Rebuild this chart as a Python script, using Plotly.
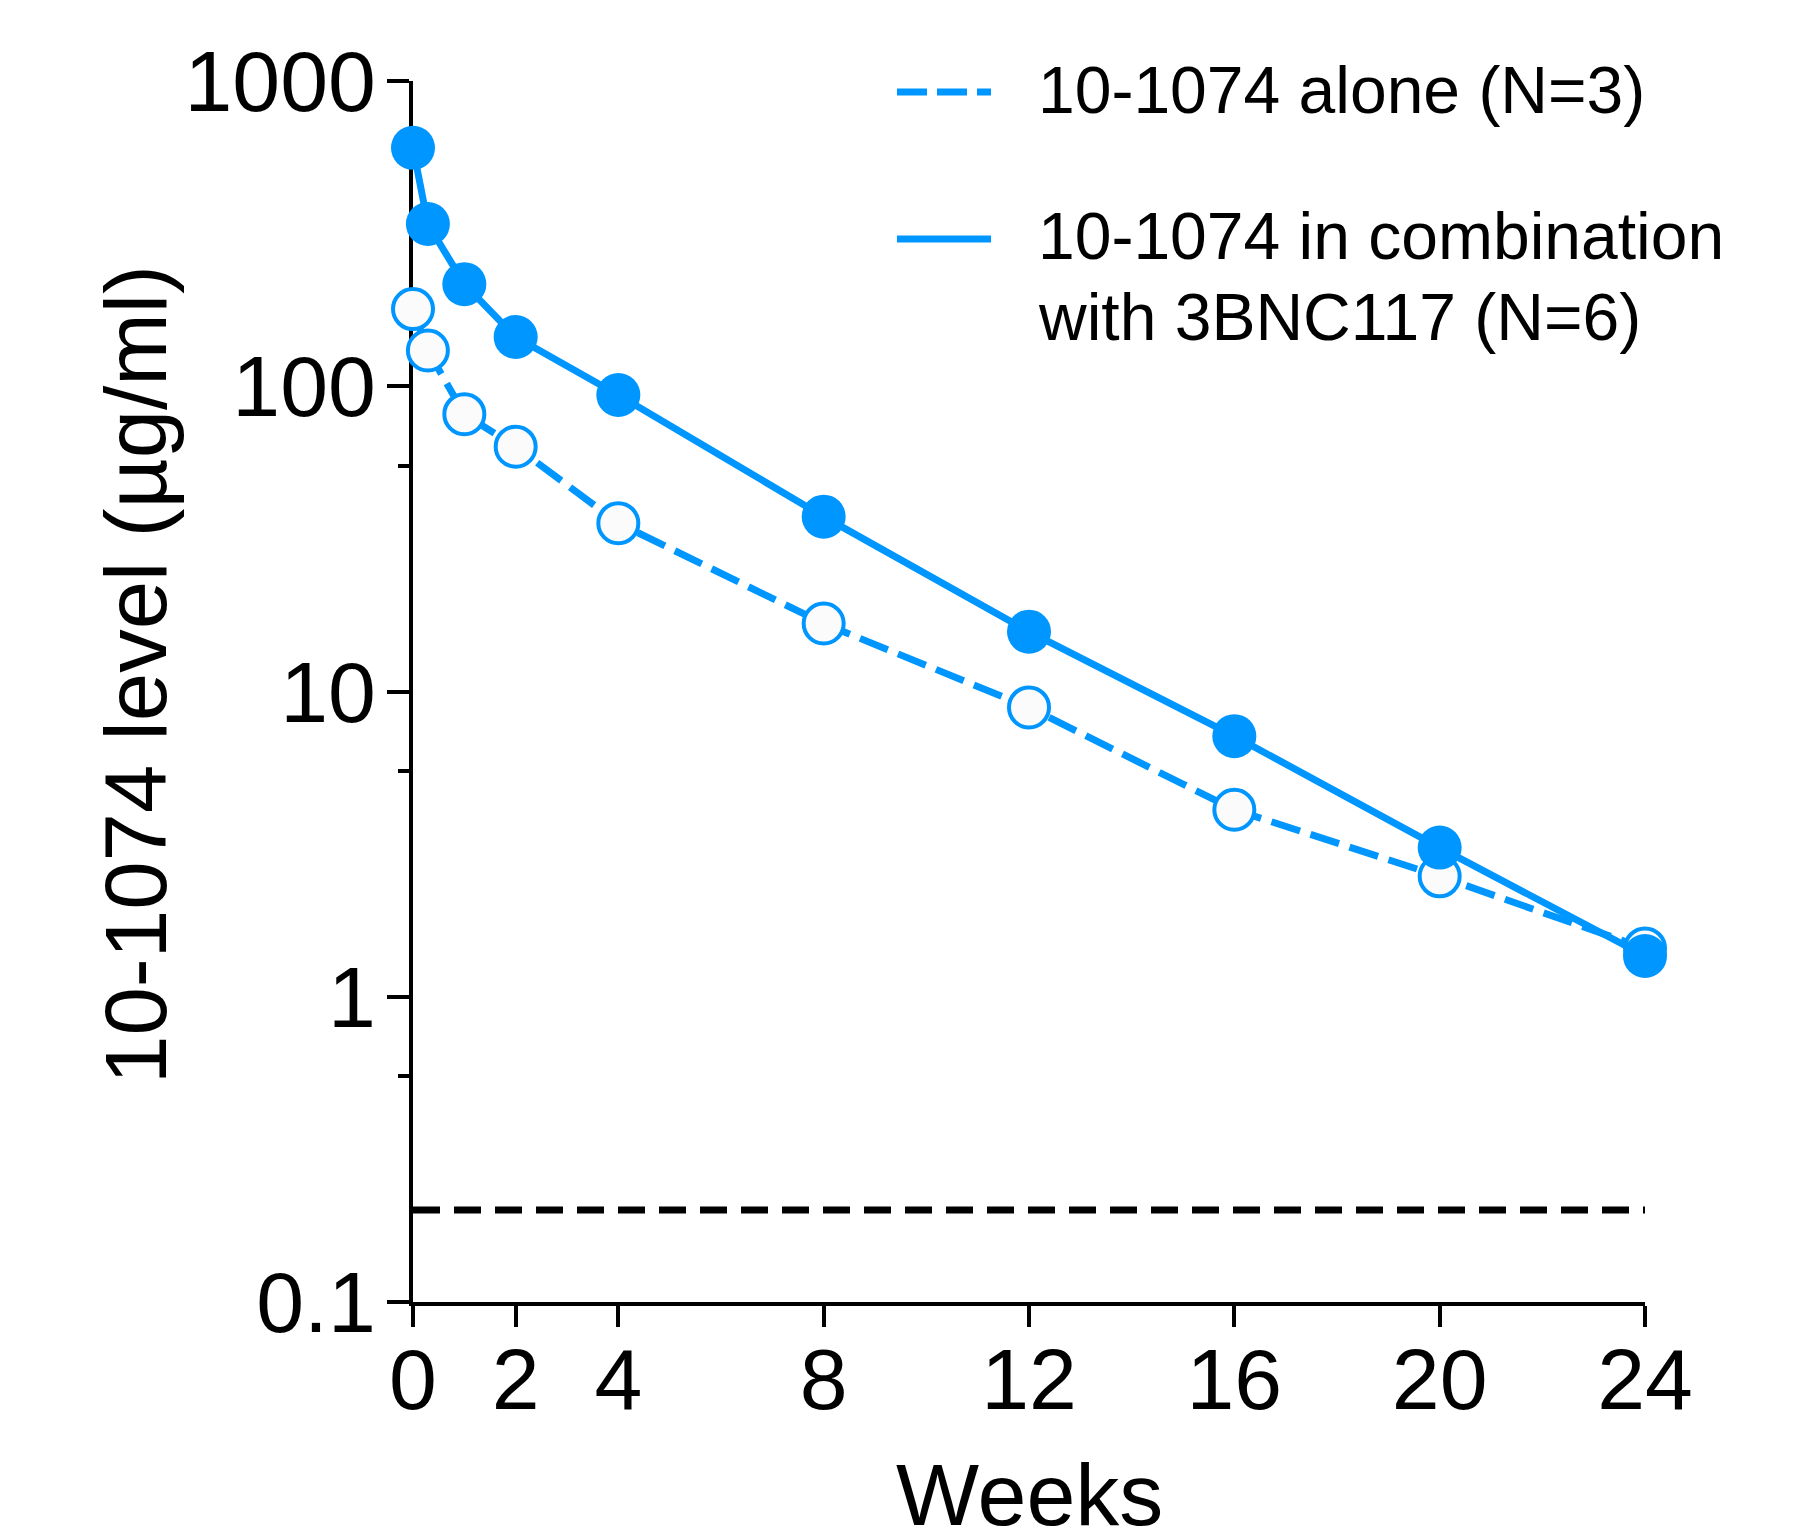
import plotly.graph_objects as go

weeks = [0, 0.29, 1, 2, 4, 8, 12, 16, 20, 24]
combo = [604, 340, 216, 145, 93.6, 37.4, 15.7, 7.14, 3.08, 1.36]
alone = [179, 131, 81, 63.4, 35.6, 16.7, 8.87, 4.1, 2.48, 1.44]
lod_x = [0, 24]
lod_y = [0.2, 0.2]

x_ticks = [0, 2, 4, 8, 12, 16, 20, 24]
y_ticks = [0.1, 1, 10, 100, 1000]
y_ticktext = ["0.1", "1", "10", "100", "1000"]
y_minor = [0.55, 5.5, 55]

legend_lines = ["10-1074 alone (N=3)", "10-1074 in combination", "with 3BNC117 (N=6)"]
x_title = "Weeks"
y_title = "10-1074 level (µg/ml)"

BLUE = "#0096FF"
FONT = "Liberation Sans"

fig = go.Figure()

fig.add_trace(go.Scatter(
    x=lod_x, y=lod_y, mode="lines",
    line=dict(color="black", width=7, dash="27px,14px"),
    showlegend=False, hoverinfo="skip"))

fig.add_trace(go.Scatter(
    x=weeks, y=alone, mode="lines+markers", name=legend_lines[0],
    line=dict(color=BLUE, width=7, dash="30px,11px"),
    marker=dict(symbol="circle", size=40, color="#fbfbfb",
                line=dict(color=BLUE, width=4)),
    cliponaxis=False, showlegend=False))

fig.add_trace(go.Scatter(
    x=weeks, y=combo, mode="lines+markers", name=legend_lines[1] + " " + legend_lines[2],
    line=dict(color=BLUE, width=7),
    marker=dict(symbol="circle", size=44, color=BLUE, line=dict(width=0)),
    cliponaxis=False, showlegend=False))

W, H = 1801, 1536
OFF = 8  # page body margin
ml, mr, mt, mb = 405, 164, 73, 242
pw, ph = W - ml - mr, H - mt - mb

def px(x):
    return (x - OFF - ml) / pw

def py(y):
    return 1 - (y - OFF - mt) / ph

shapes = [
    dict(type="line", xref="paper", yref="paper", x0=px(897), x1=px(991),
         y0=py(92), y1=py(92), line=dict(color=BLUE, width=7, dash="30px,10px")),
    dict(type="line", xref="paper", yref="paper", x0=px(897), x1=px(991),
         y0=py(239), y1=py(239), line=dict(color=BLUE, width=7)),
]
leg_font = dict(family=FONT, size=66, color="black")
annotations = [
    dict(text=legend_lines[0], xref="paper", yref="paper", x=px(1036), y=py(90),
         xanchor="left", yanchor="middle", showarrow=False, font=leg_font),
    dict(text=legend_lines[1], xref="paper", yref="paper", x=px(1036), y=py(236),
         xanchor="left", yanchor="middle", showarrow=False, font=leg_font),
    dict(text=legend_lines[2], xref="paper", yref="paper", x=px(1036), y=py(317),
         xanchor="left", yanchor="middle", showarrow=False, font=leg_font),
    dict(text=x_title, xref="paper", yref="paper", x=px(1029), y=py(1494),
         xanchor="center", yanchor="middle", showarrow=False,
         font=dict(family=FONT, size=88, color="black")),
    dict(text=y_title, xref="paper", yref="paper", x=px(135), y=py(675),
         xanchor="center", yanchor="middle", showarrow=False, textangle=-90,
         font=dict(family=FONT, size=87, color="black")),
]

fig.update_layout(
    width=W, height=H,
    margin=dict(l=ml, r=mr, t=mt, b=mb, autoexpand=False),
    paper_bgcolor="white", plot_bgcolor="white",
    font=dict(family=FONT, color="black"),
    shapes=shapes, annotations=annotations,
    showlegend=False,
)

fig.update_xaxes(
    range=[0, 24], tickmode="array", tickvals=x_ticks,
    ticks="outside", ticklen=21, tickwidth=4, tickcolor="black",
    showline=True, linewidth=4, linecolor="black", showgrid=False, zeroline=False,
    tickfont=dict(family=FONT, size=86, color="black"), ticklabelstandoff=-21,
    layer="below traces", automargin=False,
)

fig.update_yaxes(
    type="log", range=[-1, 3], tickmode="array", tickvals=y_ticks, ticktext=y_ticktext,
    ticks="outside", ticklen=22, tickwidth=4, tickcolor="black",
    minor=dict(tickmode="array", tickvals=y_minor, ticks="outside", ticklen=11,
               tickwidth=4, tickcolor="black", showgrid=False),
    showline=True, linewidth=4, linecolor="black", showgrid=False, zeroline=False,
    tickfont=dict(family=FONT, size=86, color="black"), ticklabelstandoff=-6,
    layer="below traces", automargin=False,
)

fig.write_html("out.html")
